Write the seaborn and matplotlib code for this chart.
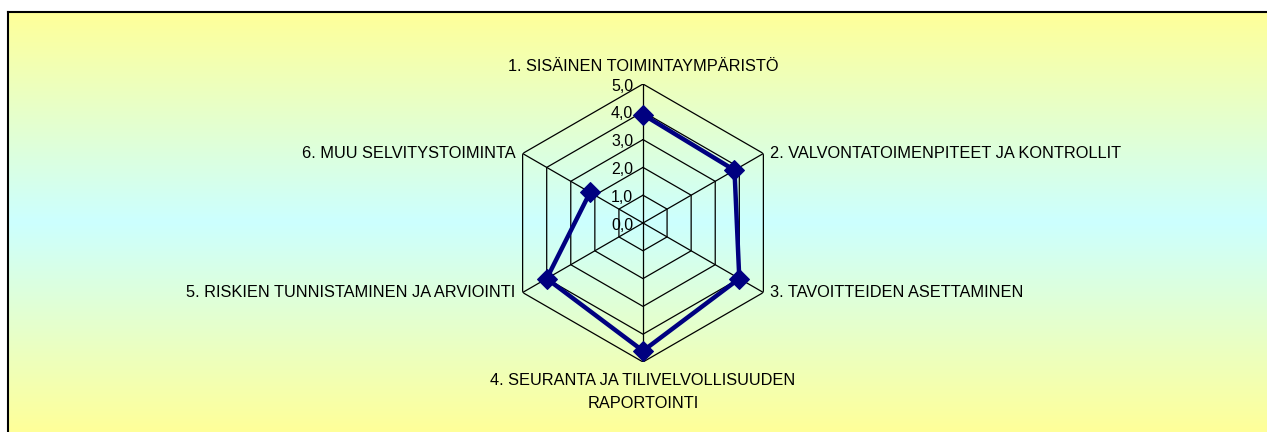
import numpy as np
import pandas as pd
import matplotlib
matplotlib.use("Agg")
import matplotlib.pyplot as plt
import seaborn as sns
from matplotlib.colors import LinearSegmentedColormap

categories = [
    "1. SISÄINEN TOIMINTAYMPÄRISTÖ",
    "2. VALVONTATOIMENPITEET JA KONTROLLIT",
    "3. TAVOITTEIDEN ASETTAMINEN",
    "4. SEURANTA JA TILIVELVOLLISUUDEN\nRAPORTOINTI",
    "5. RISKIEN TUNNISTAMINEN JA ARVIOINTI",
    "6. MUU SELVITYSTOIMINTA",
]
values = [3.9, 3.8, 4.0, 4.6, 4.0, 2.2]
levels = [0, 1, 2, 3, 4, 5]
level_labels = ["0,0", "1,0", "2,0", "3,0", "4,0", "5,0"]

sns.set_style("white")
plt.rcParams["font.family"] = ["Liberation Sans", "DejaVu Sans"]

W, H = 1267, 432
fig = plt.figure(figsize=(W / 100, H / 100), dpi=100)
fig.patch.set_facecolor("white")

# gradient background panel
bg = fig.add_axes([8 / W, 0, 1 - 8 / W + 0.01, (H - 12) / H])
cmap = LinearSegmentedColormap.from_list("g", ["#FFFF99", "#CCFFFF", "#FFFF99"])
grad = np.linspace(0, 1, 256).reshape(-1, 1)
bg.imshow(grad, aspect="auto", cmap=cmap, extent=[0, 1, 0, 1], origin="lower")
bg.set_xlim(0, 1)
bg.set_ylim(0, 1)
bg.set_xticks([])
bg.set_yticks([])
for s in ["right", "bottom"]:
    bg.spines[s].set_visible(False)
for s in ["left", "top"]:
    bg.spines[s].set_visible(True)
    bg.spines[s].set_color("black")
    bg.spines[s].set_linewidth(1.5)

# radar axes
cx, cy, R = 643, 223, 139
ax = fig.add_axes([(cx - R) / W, (H - cy - R) / H, 2 * R / W, 2 * R / H],
                  projection="polar")
ax.set_facecolor("none")
ax.set_theta_offset(np.pi / 2)
ax.set_theta_direction(-1)
ax.set_ylim(0, 5)
ax.grid(False)
ax.spines["polar"].set_visible(False)
ax.set_xticks([])
ax.set_yticks([])

n = len(categories)
angles = np.arange(n) * 2 * np.pi / n
closed = np.append(angles, angles[0])

for lv in levels[1:]:
    ax.plot(closed, [lv] * (n + 1), color="black", lw=0.9, zorder=1)
for a in angles:
    ax.plot([a, a], [0, levels[-1]], color="black", lw=0.9, zorder=1)

df = pd.DataFrame({"theta": np.append(angles, angles[0]),
                   "r": values + [values[0]]})
sns.lineplot(data=df, x="theta", y="r", ax=ax, sort=False, color="#000080",
             lw=3.2, marker="D", markersize=10.5, markeredgecolor="#000080",
             zorder=3)
ax.set_xlabel("")
ax.set_ylabel("")
ax.set_xticks([])
ax.set_yticks([])
ax.set_ylim(0, 5)

# level labels
for lv, lab in zip(levels, level_labels):
    ax.annotate(lab, xy=(0, lv), xytext=(-7, -1.5), textcoords="offset points",
                ha="right", va="center", fontsize=11.5, color="black")

# category labels
fs = 11.8
pos = [
    (0, 5, (0, 7), "center", "bottom"),
    (angles[1], 5, (5, 0), "left", "center"),
    (angles[2], 5, (5, 0), "left", "center"),
    (angles[3], 5, (0, -8), "center", "top"),
    (angles[4], 5, (-5, 0), "right", "center"),
    (angles[5], 5, (-5, 0), "right", "center"),
]
for lab, (a, r, off, ha, va) in zip(categories, pos):
    ax.annotate(lab, xy=(a, r), xytext=off, textcoords="offset points",
                ha=ha, va=va, fontsize=fs, color="black", linespacing=1.65,
                multialignment="center", annotation_clip=False)

fig.savefig("out.png", dpi=100)
